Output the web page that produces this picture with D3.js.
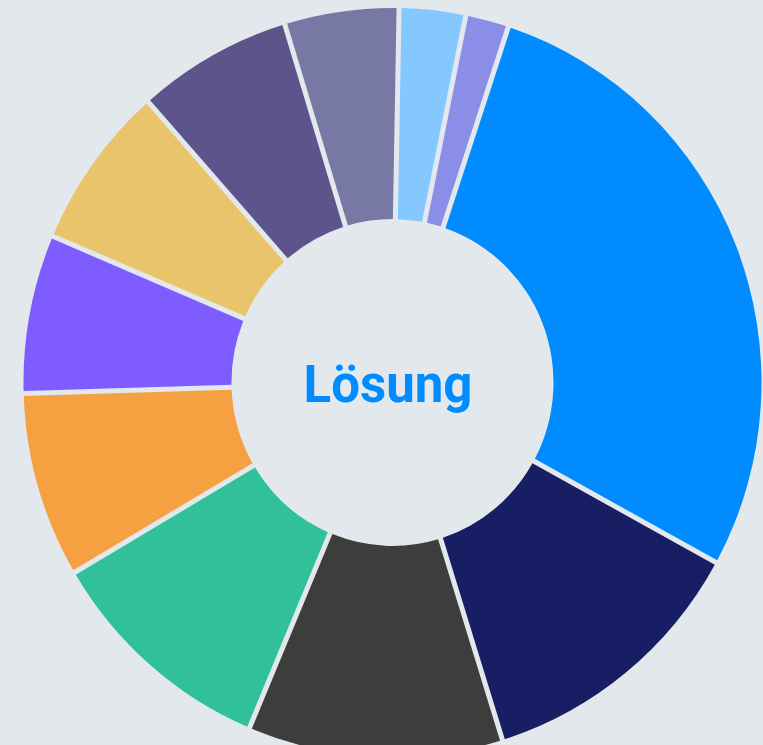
<!DOCTYPE html>
<html>
<head>
<meta charset="utf-8">
<script src="https://cdn.jsdelivr.net/npm/d3@7"></script>
<style>
  html, body { margin: 0; padding: 0; background: #e3e8ed; }
  svg { display: block; }
</style>
</head>
<body>
<svg width="763" height="745"></svg>
<script>
// slices in drawing order, clockwise, starting with the big blue one
var segments = ['S1', 'S2', 'S3', 'S4', 'S5', 'S6', 'S7', 'S8', 'S9', 'S10', 'S11'];
var shares = [27.9, 12.2, 11.15, 10.2, 8.0, 6.85, 7.1, 6.8, 5.0, 2.9, 1.9];
var colors = ['#008cff', '#171e64', '#3d3d3b', '#30c19b', '#f5a142', '#7f5cff',
              '#e9c46a', '#5e548c', '#7778a3', '#85c8ff', '#8a8ee6'];
var centerLabel = 'Lösung';

var svg = d3.select('svg');
var svgWidth = +svg.attr('width');
var svgHeight = +svg.attr('height');

var outerR = 369;
var innerR = 161;
var startDeg = 18.3;

svg.append('rect')
    .attr('width', svgWidth)
    .attr('height', svgHeight)
    .attr('fill', '#e3e8ed');

var chartG = svg.append('g')
    .attr('transform', 'translate(392.5,382.5) scale(1,1.015)');

// no padding in the pie itself, so slice borders stay proportional to the shares
var pie = d3.pie()
    .sort(null)
    .value(function(d) { return d.value; })
    .startAngle(startDeg * Math.PI / 180)
    .endAngle(startDeg * Math.PI / 180 + 2 * Math.PI);

// gap of ~5px between slices
var arc = d3.arc()
    .innerRadius(innerR)
    .outerRadius(outerR)
    .padAngle(5 / outerR)
    .padRadius(outerR);

var color = d3.scaleOrdinal()
    .domain(segments)
    .range(colors);

var data = segments.map(function(s, i) { return {name: s, value: shares[i]}; });

chartG.selectAll('.slice')
    .data(pie(data))
    .enter()
    .append('path')
    .attr('class', 'slice')
    .attr('d', arc)
    .attr('fill', function(d) { return color(d.data.name); });

svg.append('text')
    .attr('x', 388)
    .attr('y', 401.5)
    .attr('text-anchor', 'middle')
    .style('font-family', 'Roboto, sans-serif')
    .style('font-weight', 700)
    .style('font-size', '51px')
    .attr('fill', '#008cff')
    .text(centerLabel);
</script>
</body>
</html>
